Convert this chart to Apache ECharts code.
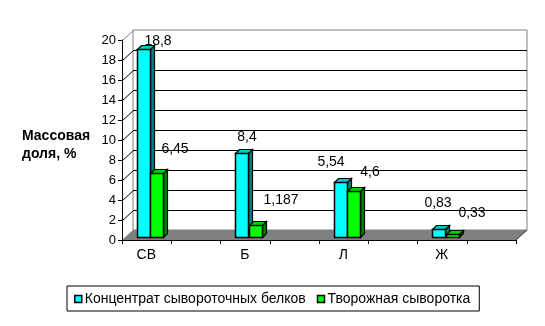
<!DOCTYPE html>
<html><head><meta charset="utf-8">
<script src="https://cdn.jsdelivr.net/npm/echarts@6/dist/echarts.min.js"></script>
<style>html,body{margin:0;padding:0;background:#fff}#c{width:545px;height:326px}</style>
</head><body><div id="c"></div>
<script>
// ---- data ----
const categories = ['СВ', 'Б', 'Л', 'Ж'];
const seriesNames = ['Концентрат сывороточных белков', 'Творожная сыворотка'];
const concentrate = [18.8, 8.4, 5.54, 0.83];
const curd = [6.45, 1.187, 4.6, 0.33];
const yMin = 0, yMax = 20, yStep = 2;
const yTitle = 'Массовая\nдоля, %';

// ---- layout / style config ----
const FONT = '"Liberation Sans", Arial, sans-serif';
const colors = [
  { front: '#00FFFF', side: '#008080', top: '#00C8C8' },
  { front: '#00FF00', side: '#008000', top: '#00D000' }
];
// label offsets (px) from the front-top centre of each bar
const labelShift = [
  [[14, -8], [5, -16], [-10, -20], [-1, -26]],
  [[18, -24], [25, -25], [16, -19], [19, -21]]
];
const DEPTH_X = 11, DEPTH_Y = 10;

function fmt(v) { return String(v).replace('.', ','); }

function makeRender(sIdx) {
  const c = colors[sIdx];
  return function (params, api) {
    const ci = api.value(0), v = api.value(1);
    const base = api.coord([ci, 0]);
    const bw = api.size([1, 0])[0];
    const start = base[0] - bw / 2;
    const w = bw * 0.137;
    const left = Math.round(start + bw * 0.152 + sIdx * w) + 0.5;
    const right = left + Math.round(w);
    const lift = 3;
    const bottom = Math.round(base[1] - lift) + 0.5;
    const topY = Math.round(api.coord([ci, v])[1] - lift) + 0.5;
    const d = 4;
    const sh = labelShift[sIdx][params.dataIndex];
    return {
      type: 'group', children: [
        { type: 'polygon', shape: { points: [[right, topY], [right + d, topY - d], [right + d, bottom - d], [right, bottom]] },
          style: { fill: c.side, stroke: '#000', lineWidth: 1.2 } },
        { type: 'polygon', shape: { points: [[left, topY], [left + d, topY - d], [right + d, topY - d], [right, topY]] },
          style: { fill: c.top, stroke: '#000', lineWidth: 1.2 } },
        { type: 'rect', shape: { x: left, y: topY, width: right - left, height: bottom - topY },
          style: { fill: c.front, stroke: '#000', lineWidth: 1.5 } },
        { type: 'text', x: (left + right) / 2 + sh[0], y: topY + sh[1],
          style: { text: fmt(v), fill: '#000', font: '14px ' + FONT, align: 'center', verticalAlign: 'middle' } }
      ]
    };
  };
}

const chart = echarts.init(document.getElementById('c'), null, { renderer: 'canvas' });
const option = {
  animation: false,
  backgroundColor: '#fff',
  textStyle: { fontFamily: FONT },
  grid: [
    { left: 133, top: 30, width: 394, height: 200, show: true, borderColor: '#808080', borderWidth: 1, backgroundColor: 'transparent' },
    { left: 122, top: 40, width: 394, height: 200 }
  ],
  xAxis: [
    { gridIndex: 0, type: 'category', data: categories, show: false },
    { gridIndex: 1, type: 'category', data: categories, position: 'bottom',
      axisLine: { show: false }, axisTick: { show: false }, splitLine: { show: false },
      axisLabel: { color: '#000', fontSize: 14, fontFamily: FONT, margin: 8, padding: [0, 50, 0, 0] } },
    { gridIndex: 1, type: 'value', min: 0, max: 8, interval: 1, position: 'bottom', z: 10,
      axisLine: { show: true, lineStyle: { color: '#000', width: 1 } },
      axisTick: { show: true, length: 4, lineStyle: { color: '#000' } },
      axisLabel: { show: false }, splitLine: { show: false } }
  ],
  yAxis: [
    { gridIndex: 0, type: 'value', min: yMin, max: yMax, interval: yStep,
      axisLine: { show: false }, axisTick: { show: false }, axisLabel: { show: false },
      splitLine: { show: true, showMinLine: false, showMaxLine: false, lineStyle: { color: '#000', width: 1 } } },
    { gridIndex: 1, type: 'value', min: yMin, max: yMax, interval: yStep, z: 10,
      axisLine: { show: true, lineStyle: { color: '#000', width: 1 } },
      axisTick: { show: true, length: 4, lineStyle: { color: '#000' } },
      axisLabel: { color: '#000', fontSize: 13, fontFamily: FONT, margin: 6 },
      splitLine: { show: false } }
  ],
  legend: {
    left: 67, top: 286, orient: 'horizontal', padding: [6, 9, 5, 7], itemGap: 11,
    itemWidth: 7, itemHeight: 7, icon: 'rect', borderColor: '#000', borderWidth: 1,
    textStyle: { fontSize: 14, color: '#000', fontFamily: FONT, padding: [0, 0, 0, -2] },
    data: [
      { name: seriesNames[0], itemStyle: { color: colors[0].front, borderColor: '#000', borderWidth: 1.5 } },
      { name: seriesNames[1], itemStyle: { color: colors[1].front, borderColor: '#000', borderWidth: 1.5 } }
    ]
  },
  series: [
    { name: seriesNames[0], type: 'custom', xAxisIndex: 1, yAxisIndex: 1, clip: false, z: 3,
      itemStyle: { color: colors[0].front }, renderItem: makeRender(0),
      encode: { x: 0, y: 1 }, data: concentrate.map((v, i) => [i, v]) },
    { name: seriesNames[1], type: 'custom', xAxisIndex: 1, yAxisIndex: 1, clip: false, z: 4,
      itemStyle: { color: colors[1].front }, renderItem: makeRender(1),
      encode: { x: 0, y: 1 }, data: curd.map((v, i) => [i, v]) }
  ],
  graphic: [
    { type: 'text', left: 22, top: 127, z: 10,
      style: { text: yTitle, font: 'bold 14px ' + FONT, fill: '#000', lineHeight: 18 } }
  ]
};
chart.setOption(option);

// 3D frame decorations: floor and diagonal tick connectors, positioned through the axes
const xl = chart.convertToPixel({ xAxisIndex: 2 }, 0);
const xr = chart.convertToPixel({ xAxisIndex: 2 }, 8);
const y0 = chart.convertToPixel({ yAxisIndex: 1 }, yMin);
const deco = [];
deco.push({ type: 'polygon', z: 1, shape: { points: [[xl, y0], [xr, y0], [xr + DEPTH_X, y0 - DEPTH_Y], [xl + DEPTH_X, y0 - DEPTH_Y]] },
  style: { fill: '#808080' } });
deco.push({ type: 'line', z: 2, shape: { x1: xr, y1: y0, x2: xr + DEPTH_X, y2: y0 - DEPTH_Y }, style: { stroke: '#303030', lineWidth: 1 } });
for (let v = yMin + yStep; v <= yMax; v += yStep) {
  const y = chart.convertToPixel({ yAxisIndex: 1 }, v);
  deco.push({ type: 'line', z: 2, shape: { x1: xl + 0.5, y1: y + 0.5, x2: xl + DEPTH_X + 0.5, y2: y - DEPTH_Y + 0.5 },
    style: { stroke: v === yMax ? '#808080' : '#000', lineWidth: 1 } });
}
option.graphic = option.graphic.concat(deco);
chart.setOption({ graphic: option.graphic });
</script>
</body></html>
